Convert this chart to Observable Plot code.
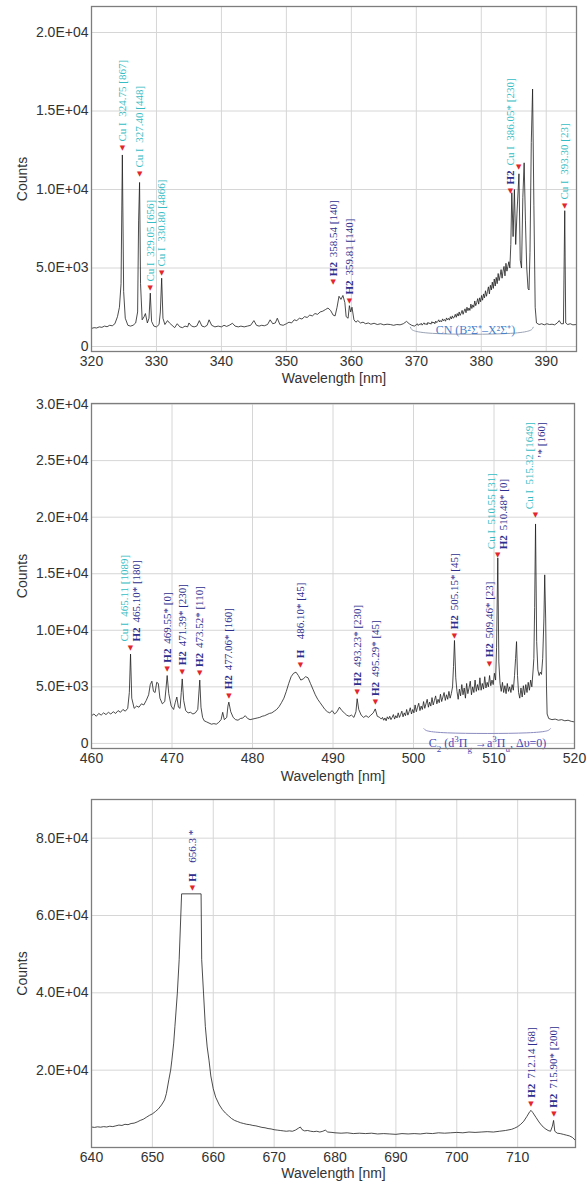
<!DOCTYPE html>
<html><head><meta charset="utf-8">
<script src="https://cdn.jsdelivr.net/npm/d3@7"></script>
<script src="https://cdn.jsdelivr.net/npm/@observablehq/plot@0.6"></script>
<style>
body{margin:0;background:#fff;}
#c svg{display:block;}
</style></head><body><div id="c"></div>
<script>
// ---------- Panel 1 : 320–395 nm ----------
const spectrum1 = [[320.0,1150],[320.4,1200],[320.8,1180],[321.2,1250],[321.6,1220],[322.0,1300],[322.4,1260],[322.8,1350],[323.2,1320],[323.6,1450],[324.0,1900],[324.3,2500],[324.55,4000],[324.75,12200],[324.95,3500],[325.2,1800],[325.6,1350],[326.0,1300],[326.4,1350],[326.8,1500],[327.1,2200],[327.25,8000],[327.4,10450],[327.55,4000],[327.8,1700],[328.1,1900],[328.3,2100],[328.6,1500],[328.85,1800],[329.05,3400],[329.25,1600],[329.6,1300],[330.0,1250],[330.4,1400],[330.6,2200],[330.8,4350],[331.0,1800],[331.3,1400],[331.7,1650],[332.0,1500],[332.4,1350],[332.8,1200],[333.2,1450],[333.6,1250],[334.0,1200],[334.4,1300],[334.8,1250],[335.0,1500],[335.4,1300],[335.8,1250],[336.2,1300],[336.6,1650],[337.0,1300],[337.4,1250],[337.8,1350],[338.1,1700],[338.5,1350],[339.0,1250],[339.5,1300],[340.0,1250],[340.4,1350],[340.8,1280],[341.2,1350],[341.7,1480],[342.1,1300],[342.6,1250],[343.0,1300],[343.5,1250],[344.0,1300],[344.5,1350],[345.0,1650],[345.4,1350],[345.8,1300],[346.2,1350],[346.6,1320],[347.1,1400],[347.5,1700],[347.9,1450],[348.3,1500],[348.6,1800],[349.0,1400],[349.5,1350],[350.0,1450],[350.4,1550],[350.8,1500],[351.2,1700],[351.6,1650],[352.0,1800],[352.4,1750],[352.8,1900],[353.2,1850],[353.6,2000],[354.0,1950],[354.4,2100],[354.8,2050],[355.2,2200],[355.6,2250],[356.0,2350],[356.4,2450],[356.8,2300],[357.2,2000],[357.5,1950],[357.8,2500],[358.1,3200],[358.4,3000],[358.7,3250],[359.0,2800],[359.2,1900],[359.5,1800],[359.7,2600],[359.9,2200],[360.1,2500],[360.4,1700],[360.7,1550],[361.0,1650],[361.4,1500],[361.8,1550],[362.2,1450],[362.6,1500],[363.0,1420],[363.5,1480],[364.0,1400],[364.5,1450],[365.0,1380],[365.5,1420],[366.0,1400],[366.5,1350],[367.0,1400],[367.5,1380],[368.0,1450],[368.5,1600],[368.9,1450],[369.3,1350],[369.7,1300],
[370.0,1380],[370.15,1450],[370.3,1340],[370.45,1420],[370.6,1390],[370.75,1480],[370.9,1360],[371.05,1450],[371.2,1510],[371.35,1400],[371.5,1470],[371.65,1380],[371.8,1540],[371.95,1450],[372.1,1500],[372.25,1420],[372.4,1580],[372.55,1490],[372.7,1560],[372.85,1450],[373.0,1620],[373.15,1520],[373.3,1590],[373.45,1700],[373.6,1560],[373.75,1650],[373.9,1580],[374.05,1760],[374.2,1640],[374.35,1720],[374.5,1610],[374.65,1820],[374.8,1700],[374.95,1790],[375.1,1680],[375.25,1900],[375.4,1760],[375.55,1950],[375.7,1800],[375.85,1880],[376.0,2050],[376.15,1860],[376.3,2100],[376.45,1940],[376.6,2200],[376.75,1980],[376.9,2120],[377.05,2300],[377.2,2050],[377.35,2250],[377.5,2400],[377.65,2150],[377.8,2500],[377.95,2280],[378.1,2450],[378.25,2300],[378.4,2700],[378.55,2420],[378.7,2650],[378.85,2500],[379.0,2900],[379.15,2600],[379.3,2800],[379.45,3050],[379.6,2700],[379.75,3100],[379.9,2850],[380.05,3250],[380.2,2950],[380.35,3350],[380.5,3100],[380.65,3550],[380.8,3200],[380.95,3500],[381.1,3800],[381.25,3350],[381.4,3900],[381.55,3600],[381.7,4100],[381.85,3700],[382.0,4300],[382.15,3850],[382.3,4400],[382.45,4000],[382.6,4650],[382.75,4200],[382.9,4500],[383.05,4900],[383.2,4350],[383.35,4800],[383.5,5100],[383.65,4500],[383.8,5300],[383.95,4800],[384.1,5100],[384.25,5400],[384.4,5000],
[384.55,6500],[384.7,9800],[384.9,7000],[385.1,10000],[385.3,6500],[385.5,8500],[385.8,11000],[386.0,5500],[386.2,5000],[386.4,9500],[386.6,11700],[386.8,8000],[387.0,5000],[387.2,3700],[387.35,3600],[387.5,6000],[387.7,13000],[387.9,16400],[388.1,9000],[388.3,2500],[388.5,1500],[388.9,1400],[389.3,1450],[389.7,1380],[390.1,1450],[390.5,1400],[390.9,1420],[391.3,1380],[391.7,1500],[392.0,1650],[392.3,1450],[392.65,1450],[392.85,8650],[393.0,1500],[393.3,1400],[393.7,1450],[394.1,1380],[394.66,1400]];
const markers1 = [[324.75,12675],[327.40,11020],[329.05,3760],[330.80,4710],[357.2,4100],[359.7,2930],[384.5,9940],[385.75,11480],[392.85,8980]];
// label: [marker index, species prefix, text]
const labels1 = [[0,"","Cu I  324.75 [867]"],[1,"","Cu I  327.40 [448]"],[2,"","Cu I  329.05 [656]"],[3,"","Cu I  330.80 [4866]"],[4,"H2","358.54 [140]"],[5,"H2","359.81 [140]"],[6,"H2","Cu I  386.05* [230]"],[8,"","Cu I  393.30 [23]"]];
const band1 = {text:"CN (B²Σ⁺–X²Σ⁺)", x:379.1, y:1020, bracket:[[369.1,1230],[369.6,760],[387.4,760],[388.0,1230]]};
const xTicks1 = [320,330,340,350,360,370,380,390];
const yTicks1 = [0,5000,10000,15000,20000];

// ---------- Panel 2 : 460–520 nm ----------
const spectrum2 = [[460.0,2450],[460.3,2600],[460.6,2400],[460.9,2650],[461.2,2500],[461.5,2700],[461.8,2550],[462.1,2750],[462.4,2600],[462.7,2800],[463.0,2650],[463.3,2900],[463.6,2750],[463.9,3000],[464.2,2850],[464.5,3100],[464.7,4500],[464.85,7900],[465.0,4000],[465.3,3100],[465.6,3300],[465.9,3200],[466.2,3500],[466.5,3400],[466.8,3800],[467.1,4300],[467.3,5200],[467.5,5500],[467.7,4600],[467.9,4500],[468.1,5400],[468.3,5300],[468.5,4000],[468.8,3500],[469.1,3700],[469.25,4800],[469.4,6000],[469.6,4400],[469.9,3300],[470.2,3000],[470.4,3600],[470.6,4100],[470.8,3200],[471.0,3100],[471.15,4500],[471.27,5700],[471.45,3800],[471.7,2900],[472.0,2700],[472.3,2750],[472.6,2600],[472.9,2700],[473.2,3000],[473.45,5600],[473.6,3200],[473.8,2300],[474.0,2000],[474.3,1900],[474.6,1800],[474.9,1700],[475.2,1750],[475.5,1700],[475.8,1850],[476.1,2100],[476.3,2750],[476.5,2100],[476.8,2300],[476.95,3300],[477.06,3650],[477.3,2800],[477.6,2300],[477.9,2100],[478.2,2050],[478.5,2200],[478.8,2250],[479.1,2450],[479.4,2200],[479.7,2100],[480.0,2150],[480.3,2200],[480.6,2250],[480.9,2300],[481.2,2400],[481.5,2450],[481.8,2550],[482.1,2650],[482.4,2700],[482.7,2850],[483.0,3000],[483.3,3250],[483.6,3600],[483.9,4000],[484.2,4600],[484.5,5300],[484.8,5900],[485.1,6200],[485.4,6300],[485.7,6000],[486.0,5600],[486.3,5700],[486.6,5900],[486.9,5800],[487.2,5300],[487.5,4800],[487.8,4300],[488.1,3900],[488.4,3600],[488.7,3300],[489.0,3000],[489.3,2800],[489.6,2700],[489.9,2900],[490.2,2600],[490.5,2800],[490.8,3200],[491.1,2900],[491.4,2700],[491.7,2500],[492.0,2400],[492.3,2500],[492.6,2300],[492.85,2800],[493.0,3950],[493.2,3000],[493.5,2500],[493.8,2300],[494.1,2450],[494.4,2300],[494.7,2500],[495.0,2700],[495.25,3050],[495.5,2400],[495.8,2300],
[496.0,2150],[496.15,2300],[496.3,2050],[496.45,2250],[496.6,2000],[496.75,2350],[496.9,2150],[497.05,2400],[497.2,2100],[497.35,2300],[497.5,2550],[497.65,2150],[497.8,2450],[497.95,2250],[498.1,2700],[498.25,2300],[498.4,2550],[498.55,2850],[498.7,2350],[498.85,2700],[499.0,2450],[499.15,3000],[499.3,2500],[499.45,2800],[499.6,3150],[499.75,2600],[499.9,3000],[500.05,2700],[500.2,3400],[500.35,2800],[500.5,3200],[500.65,3550],[500.8,2900],[500.95,3300],[501.1,3000],[501.25,3700],[501.4,3100],[501.55,3500],[501.7,3900],[501.85,3200],[502.0,3650],[502.15,3300],[502.3,4050],[502.45,3400],[502.6,3800],[502.75,4200],[502.9,3500],[503.05,3900],[503.2,3600],[503.35,4350],[503.5,3700],[503.65,4100],[503.8,4500],[503.95,3800],[504.1,4300],[504.25,3900],[504.4,4600],[504.55,4000],[504.7,4400],[504.85,5000],[504.97,6800],[505.09,9100],[505.25,5800],[505.4,4600],[505.55,3900],[505.7,4800],[505.85,4200],[506.0,5200],[506.15,4300],[506.3,4900],[506.45,4000],[506.6,5300],[506.75,4400],[506.9,4900],[507.05,5500],[507.2,4300],[507.35,5000],[507.5,4500],[507.65,5600],[507.8,4600],[507.95,5200],[508.1,4700],[508.25,5800],[508.4,4700],[508.55,5300],[508.7,4800],[508.85,5900],[509.0,4900],[509.15,5400],[509.3,5000],[509.45,6000],[509.6,5100],[509.75,5600],[509.9,5200],[510.05,6200],[510.2,5600],[510.32,8500],[510.47,16400],[510.6,7200],[510.75,5300],[510.9,4600],[511.05,5400],[511.2,4500],[511.35,5100],[511.5,4400],[511.65,5300],[511.8,4600],[511.95,5000],[512.1,4500],[512.25,5200],[512.4,4700],[512.55,6000],[512.68,7500],[512.8,9000],[512.92,6000],[513.05,4500],[513.2,4000],[513.35,4900],[513.5,4100],[513.65,5100],[513.8,4300],[513.95,5200],[514.1,4500],[514.25,5400],[514.4,4700],[514.55,5600],[514.7,5000],[514.85,6400],[514.95,7500],[515.05,12000],[515.16,19400],[515.3,9000],[515.45,6500],[515.6,6000],[515.75,6300],[515.9,6100],[516.05,7500],[516.2,11000],[516.3,14900],[516.42,11000],[516.52,5000],[516.6,2600],[516.8,2200],[517.2,2100],[517.6,2150],[518.0,2050],[518.4,2100],[518.8,2000],[519.2,2050],[519.6,1950],[520.0,1900]];
const markers2 = [[464.84,8470],[469.40,6610],[471.27,6370],[473.45,6220],[477.06,4250],[485.96,6990],[493.0,4540],[495.28,3650],[505.09,9560],[509.44,7080],[510.47,16640],[515.16,20180]];
const labels2 = [[0,"","Cu I  465.11 [1089]"],[0,"H2","465.10* [180]"],[1,"H2","469.55* [0]"],[2,"H2","471.39* [230]"],[3,"H2","473.52* [110]"],[4,"H2","477.06* [160]"],[5,"H","486.10* [45]"],[6,"H2","493.23* [230]"],[7,"H2","495.29* [45]"],[8,"H2","505.15* [45]"],[9,"H2","509.46* [23]"],[10,"","Cu I  510.55 [31]"],[10,"H2","510.48* [0]"],[11,"","Cu I  515.32 [1649]"],[11,"","’* [160]"]];
const band2 = {text:"C2 (d3Πg →a3Πu, Δυ=0)", x:509.2, y:0, bracket:[[501.3,1300],[501.9,860],[516.4,860],[517.0,1300]]};
const xTicks2 = [460,470,480,490,500,510,520];
const yTicks2 = [0,5000,10000,15000,20000,25000,30000];

// ---------- Panel 3 : 640–720 nm ----------
const spectrum3 = [[640.0,5300],[640.5,5200],[641.0,5350],[641.5,5250],[642.0,5400],[642.5,5300],[643.0,5500],[643.5,5400],[644.0,5600],[644.5,5800],[645.0,5700],[645.5,6000],[646.0,5900],[646.5,6200],[647.0,6300],[647.5,6600],[648.0,7000],[648.5,7300],[649.0,7800],[649.5,8300],[650.0,8700],[650.5,9300],[651.0,10000],[651.5,11000],[652.0,12300],[652.3,13950],[652.7,17500],[653.0,20000],[653.2,22600],[653.5,27000],[653.7,31250],[654.1,39920],[654.4,48570],[654.8,65600],[658.0,65600],[658.1,48570],[658.4,39920],[658.7,31250],[659.0,26000],[659.3,22600],[659.6,18500],[660.0,15200],[660.4,13000],[661.0,11000],[661.5,9800],[662.0,8900],[662.5,8200],[663.0,7500],[663.5,7000],[664.0,6700],[664.5,6400],[665.0,6200],[665.5,6000],[666.0,5900],[666.5,5700],[667.0,5600],[667.5,5400],[668.0,5200],[668.5,5100],[669.0,4900],[669.5,4800],[670.0,4600],[670.5,4500],[671.0,4400],[671.5,4300],[672.0,4200],[672.5,4300],[673.0,4200],[673.5,4500],[674.0,5000],[674.3,5300],[674.6,4600],[675.0,4300],[675.5,4400],[676.0,4200],[676.5,4100],[677.0,4200],[677.5,4000],[678.0,4200],[678.4,4500],[678.8,4000],[679.5,3900],[680.0,3800],[681,3700],[682,3800],[683,3600],[684,3700],[685,3600],[686,3700],[687,3500],[688,3600],[689,3500],[690,3400],[691,3600],[692,3500],[693,3600],[694,3500],[695,3700],[696,3600],[697,3800],[698,3700],[699,3800],[700,3900],[701,3800],[702,4000],[703,3900],[704,4000],[705,4100],[706,4000],[707,4200],[708,4400],[709,4700],[709.5,5000],[710,5400],[710.5,6000],[711,6800],[711.5,8000],[712,9300],[712.2,9600],[712.5,9000],[713,7800],[713.5,6600],[714,5600],[714.5,4900],[715,4400],[715.4,4200],[715.7,5500],[715.9,7000],[716.1,4200],[716.5,3700],[717,3600],[717.5,3400],[718,3200],[718.5,3000],[719,2600],[719.5,1800]];
const markers3 = [[656.6,67180],[712.2,11320],[715.95,8730]];
const labels3 = [[0,"H","656.3 *"],[1,"H2","712.14 [68]"],[2,"H2","715.90* [200]"]];
const xTicks3 = [640,650,660,670,680,690,700,710];
const yTicks3 = [20000,40000,60000,80000];

// ---------- styling ----------
const CYAN = "#35bcc4", NAVY = "#2e2e8e", RED = "#e3262b";
const SERIF = "Liberation Serif, Times New Roman, serif";
const fmtY = d => {
  if (d === 0) return "0";
  const e = Math.floor(Math.log10(d));
  return (d / 10 ** e).toFixed(1) + "E+" + String(e).padStart(2, "0");
};

function labelMarks(markers, labels) {
  const out = [];
  out.push(Plot.text(markers, {x: d => d[0], y: d => d[1], text: () => "▼", fill: RED, fontSize: 7, fontFamily: "DejaVu Sans"}));
  labels.forEach((lab) => {
    const [mi, pre, txt] = lab;
    const m = markers[mi];
    const siblings = labels.filter(l => l[0] === mi);
    let dx = 0;
    if (siblings.length > 1) dx = siblings.indexOf(lab) === 0 ? -6 : 6;
    const base = {x: () => m[0], y: () => m[1], rotate: -90, textAnchor: "start", lineAnchor: "middle", fontFamily: SERIF, fontSize: 11, dx};
    if (pre) out.push(Plot.text([0], {...base, text: () => pre, dy: -6, fill: NAVY, fontWeight: "bold"}));
    let dy = pre ? -25 : -6;
    if (!pre && !txt.startsWith("Cu")) dy = -57;
    out.push(Plot.text([0], {...base, text: () => txt, dy, fill: txt.startsWith("Cu") ? CYAN : NAVY}));
  });
  return out;
}

function bandMarks(band, color, lineColor) {
  if (!band) return [];
  return [
    Plot.line(band.bracket, {x: d => d[0], y: d => d[1], stroke: lineColor, strokeWidth: 1, curve: "basis"}),
    Plot.text([band], {x: "x", y: "y", text: "text", fill: color, fontFamily: SERIF, fontSize: 12})
  ];
}

function panel(cfg) {
  return Plot.plot({
    width: 587, height: cfg.height,
    marginLeft: 91, marginRight: cfg.mr, marginTop: cfg.mt, marginBottom: cfg.mb,
    style: {fontFamily: "Liberation Sans, Arial, sans-serif", fontSize: "14px", background: "white", color: "#333"},
    x: {domain: cfg.xd},
    y: {domain: cfg.yd},
    marks: [
      Plot.gridX(cfg.xt, {stroke: "#d6d6d6", strokeOpacity: 1}),
      Plot.gridY(cfg.yt, {stroke: "#d6d6d6", strokeOpacity: 1}),
      Plot.axisX(cfg.xt, {tickSize: 0, tickPadding: 5, label: null, tickFormat: d => String(d), fill: "#333"}),
      Plot.axisY(cfg.yt, {tickSize: 0, tickPadding: 3, label: null, tickFormat: fmtY, fill: "#333"}),
      Plot.line(cfg.data, {x: d => d[0], y: d => d[1], stroke: "#1e1e1e", strokeWidth: 0.8}),
      ...bandMarks(cfg.band, cfg.bandColor, cfg.bracketColor),
      ...labelMarks(cfg.markers, cfg.labels),
      Plot.frame({stroke: "#7d7d7d", strokeWidth: 1.3}),
      Plot.text(["Wavelength [nm]"], {frameAnchor: "bottom", lineAnchor: "middle", textAnchor: "middle", dy: cfg.xlDy, fill: "#333"}),
      Plot.text(["Counts"], {frameAnchor: "left", lineAnchor: "middle", textAnchor: "middle", dx: -69, rotate: -90, fill: "#333"})
    ]
  });
}

const c = document.getElementById("c");
c.append(panel({height: 390, mt: 6, mb: 39, mr: 11, xd: [320, 394.66], yd: [-318, 21656], xt: xTicks1, yt: yTicks1, data: spectrum1, markers: markers1, labels: labels1, band: band1, bandColor: "#4a80cc", bracketColor: "#9aa3b3", xlDy: 27}));
c.append(panel({height: 395, mt: 13, mb: 37, mr: 13, xd: [460, 520], yd: [-450, 30050], xt: xTicks2, yt: yTicks2, data: spectrum2, markers: markers2, labels: labels2, band: band2, bandColor: "#4848b8", bracketColor: "#8c8cc0", xlDy: 28}));
c.append(panel({height: 400, mt: 14, mb: 38, mr: 12, xd: [640, 719.5], yd: [0, 90000], xt: xTicks3, yt: yTicks3, data: spectrum3, markers: markers3, labels: labels3, band: null, xlDy: 26}));

// sub/superscripts in the C2 band label
c.querySelectorAll("text").forEach(t => {
  if (t.textContent === band2.text) {
    const sub = s => `<tspan baseline-shift="sub" font-size="9">${s}</tspan>`;
    const sup = s => `<tspan baseline-shift="super" font-size="9">${s}</tspan>`;
    t.innerHTML = `C${sub("2")} (d${sup("3")}Π${sub("g")} →a${sup("3")}Π${sub("u")}, Δυ=0)`;
  }
});
</script></body></html>
